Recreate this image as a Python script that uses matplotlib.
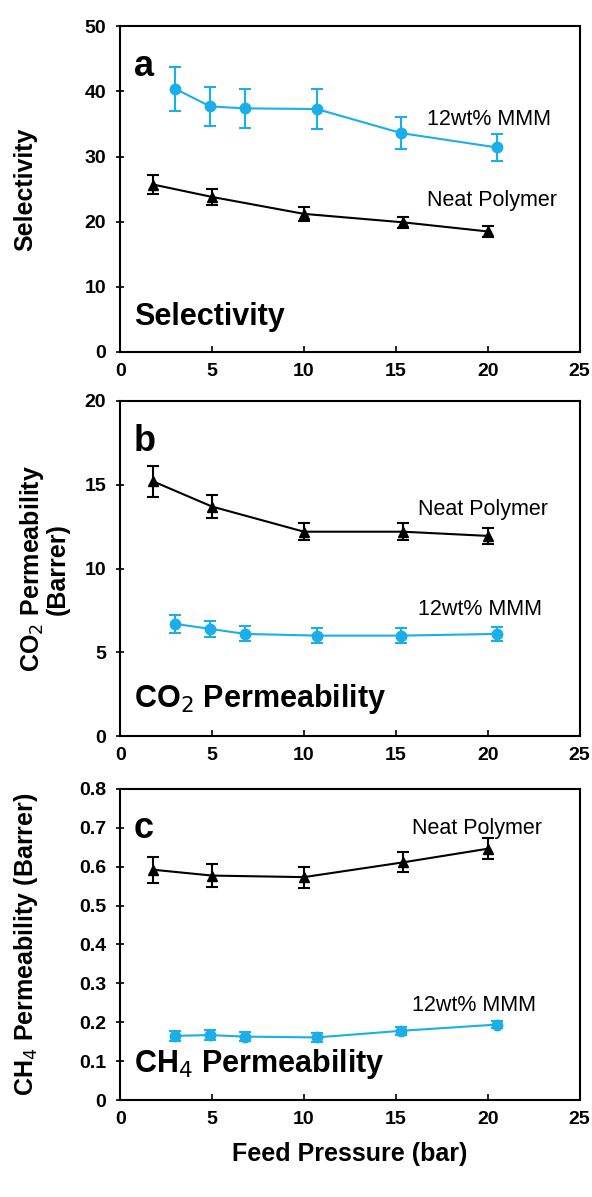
import matplotlib
matplotlib.use("Agg")
import matplotlib.pyplot as plt

plt.rcParams['font.family'] = ['Liberation Sans', 'DejaVu Sans']

blue = '#1AAFE8'

# feed pressures (bar)
x_mmm = [3.0, 4.9, 6.8, 10.7, 15.3, 20.5]
x_neat = [1.8, 5.0, 10.0, 15.4, 20.0]

# selectivity
sel_mmm = [40.4, 37.7, 37.4, 37.3, 33.6, 31.4]
sel_mmm_err = [3.4, 3.0, 3.0, 3.0, 2.5, 2.1]
sel_neat = [25.7, 23.8, 21.2, 19.9, 18.5]
sel_neat_err = [1.5, 1.2, 1.1, 0.8, 0.9]

# CO2 permeability (Barrer)
co2_neat = [15.2, 13.7, 12.2, 12.2, 11.95]
co2_neat_err = [0.9, 0.7, 0.5, 0.5, 0.5]
co2_mmm = [6.7, 6.4, 6.1, 6.0, 6.0, 6.1]
co2_mmm_err = [0.55, 0.5, 0.45, 0.45, 0.45, 0.4]

# CH4 permeability (Barrer)
ch4_neat = [0.592, 0.577, 0.573, 0.611, 0.646]
ch4_neat_err = [0.033, 0.030, 0.027, 0.026, 0.027]
ch4_mmm = [0.165, 0.167, 0.163, 0.161, 0.178, 0.194]
ch4_mmm_err = [0.013, 0.012, 0.011, 0.012, 0.010, 0.010]

fig = plt.figure(figsize=(5.92, 11.97), dpi=100)

left, width = 0.203, 0.776
ax_a = fig.add_axes([left, 0.706, width, 0.272])
ax_b = fig.add_axes([left, 0.385, width, 0.280])
ax_c = fig.add_axes([left, 0.081, width, 0.260])

panels = [
    (ax_a, sel_mmm, sel_mmm_err, sel_neat, sel_neat_err, 50, 10, 'a',
     'Selectivity', 'Selectivity', (16.7, 35.7), (16.7, 23.3), -0.18),
    (ax_b, co2_mmm, co2_mmm_err, co2_neat, co2_neat_err, 20, 5, 'b',
     'CO$_2$ Permeability\n(Barrer)', 'CO$_2$ Permeability', (16.2, 7.55), (16.2, 13.5), -0.11),
    (ax_c, ch4_mmm, ch4_mmm_err, ch4_neat, ch4_neat_err, 0.8, 0.1, 'c',
     'CH$_4$ Permeability (Barrer)', 'CH$_4$ Permeability', (15.9, 0.242), (15.9, 0.699), -0.175),
]

for ax, ym, em, yn, en, ymax, step, letter, ylab, title, pm, pn, lx in panels:
    ax.errorbar(x_mmm, ym, yerr=em, color=blue, marker='o', markersize=7.5,
                lw=1.5, capsize=4, elinewidth=1.5, capthick=1.5)
    ax.errorbar(x_neat, yn, yerr=en, color='black', marker='^', markersize=7.5,
                lw=1.5, capsize=4, elinewidth=1.5, capthick=1.5)
    ax.set_xlim(0, 25)
    ax.set_ylim(0, ymax)
    ax.set_xticks(range(0, 26, 5))
    n = int(round(ymax / step))
    ax.set_yticks([round(i * step, 2) for i in range(n + 1)])
    if ymax < 1:
        ax.set_yticklabels(['0'] + ['%.1f' % (i * step) for i in range(1, n + 1)])
    ax.tick_params(axis='x', direction='in', length=4, width=1.2, pad=8)
    ax.tick_params(axis='y', direction='inout', length=6, width=1.2, pad=7)
    for lbl in ax.get_xticklabels() + ax.get_yticklabels():
        lbl.set_fontsize(14)
        lbl.set_fontweight('bold')
    for s in ax.spines.values():
        s.set_linewidth(1.5)
    ax.set_ylabel(ylab, fontsize=18, fontweight='bold', linespacing=1.0)
    ax.yaxis.set_label_coords(lx, 0.5)
    ax.text(0.03, 0.93, letter, transform=ax.transAxes, fontsize=26,
            fontweight='bold', va='top', ha='left')
    ax.text(0.03, 0.06, title, transform=ax.transAxes, fontsize=22,
            fontweight='bold', va='bottom', ha='left')
    ax.text(pm[0], pm[1], '12wt% MMM', fontsize=15.5, va='center', ha='left')
    ax.text(pn[0], pn[1], 'Neat Polymer', fontsize=15.5, va='center', ha='left')

ax_c.set_xlabel('Feed Pressure (bar)', fontsize=18, fontweight='bold', labelpad=10)

fig.savefig('out.png', dpi=100)
